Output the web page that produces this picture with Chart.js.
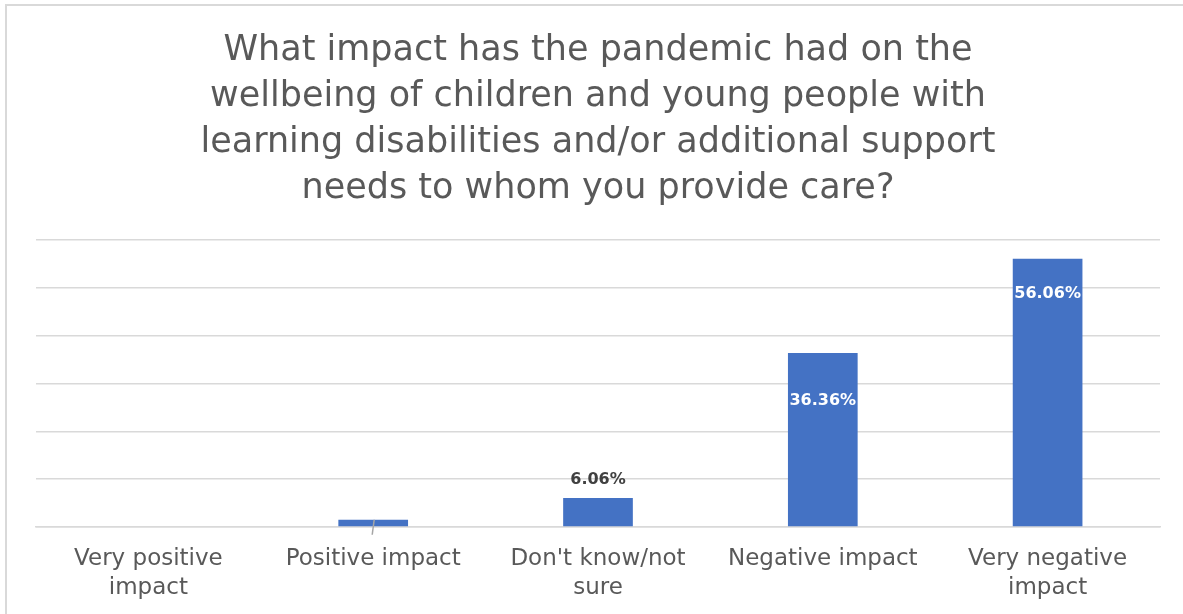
<!DOCTYPE html>
<html>
<head>
<meta charset="utf-8">
<script src="https://cdn.jsdelivr.net/npm/chart.js@4"></script>
<style>
  html, body { margin: 0; padding: 0; background: #fff; overflow: hidden; }
  #wrap { position: relative; width: 1183px; height: 614px; }
  #frame { position: absolute; left: 5px; top: 4px; width: 2000px; height: 2000px;
           border: 2px solid #d9d9d9; box-sizing: border-box; pointer-events: none; }
  canvas { position: absolute; left: 0; top: 0; }
</style>
</head>
<body>
<div id="wrap">
  <canvas id="c" width="1183" height="614"></canvas>
  <div id="frame"></div>
</div>
<script>
// Survey responses: impact of the pandemic on wellbeing (% of respondents)
const categories = [
  ["Very positive", "impact"],
  "Positive impact",
  ["Don't know/not", "sure"],
  "Negative impact",
  ["Very negative", "impact"]
];
const shares = [0, 1.52, 6.06, 36.36, 56.06];
const valueLabels = ["", "", "6.06%", "36.36%", "56.06%"];
const titleLines = [
  "What impact has the pandemic had on the",
  "wellbeing of children and young people with",
  "learning disabilities and/or additional support",
  "needs to whom you provide care?"
];

// Where each value label sits relative to the bar top (px; negative = above)
const labelOffsets = [0, 0, -18, 48, 35];
const labelColors = ["#404040", "#404040", "#404040", "#ffffff", "#ffffff"];

const FONT = "'DejaVu Sans', 'Noto Sans', sans-serif";

const valueLabelPlugin = {
  id: "valueLabels",
  afterDatasetsDraw(chart) {
    const ctx = chart.ctx;
    const meta = chart.getDatasetMeta(0);
    ctx.save();
    meta.data.forEach((bar, i) => {
      if (i === 1) {
        // leader line for the smallest bar
        ctx.strokeStyle = "#a6a6a6";
        ctx.lineWidth = 1.5;
        ctx.beginPath();
        ctx.moveTo(bar.x + 1, bar.y);
        ctx.lineTo(bar.x - 1, bar.y + 15);
        ctx.stroke();
      }
      const txt = valueLabels[i];
      if (!txt) return;
      ctx.font = "bold 16px " + FONT;
      ctx.fillStyle = labelColors[i];
      ctx.textAlign = "center";
      ctx.textBaseline = "middle";
      ctx.fillText(txt, bar.x, bar.y + labelOffsets[i]);
    });
    ctx.restore();
  }
};

new Chart(document.getElementById("c"), {
  type: "bar",
  data: {
    labels: categories,
    datasets: [{
      data: shares,
      backgroundColor: "#4472c4",
      borderWidth: 0,
      categoryPercentage: 1,
      barPercentage: 0.31
    }]
  },
  options: {
    responsive: false,
    animation: false,
    layout: { padding: { left: 36, right: 23, top: 0, bottom: 0 } },
    plugins: {
      legend: { display: false },
      tooltip: { enabled: false },
      title: {
        display: true,
        text: titleLines,
        color: "#595959",
        font: { family: FONT, size: 35, weight: "normal", lineHeight: 1.314 },
        padding: { top: 28, bottom: 28 }
      }
    },
    scales: {
      x: {
        grid: { display: false, drawTicks: false },
        border: { display: true, color: "#d9d9d9", width: 1.5 },
        ticks: {
          color: "#595959",
          font: { family: FONT, size: 23, lineHeight: 1.26 },
          padding: 18,
          maxRotation: 0,
          autoSkip: false
        },
        afterFit(scale) { scale.height = 87; }
      },
      y: {
        display: true,
        min: 0,
        max: 60,
        ticks: { display: false, stepSize: 10 },
        grid: { color: "#d9d9d9", lineWidth: 1.5, drawTicks: false },
        border: { display: false }
      }
    }
  },
  plugins: [valueLabelPlugin]
});
</script>
</body>
</html>
